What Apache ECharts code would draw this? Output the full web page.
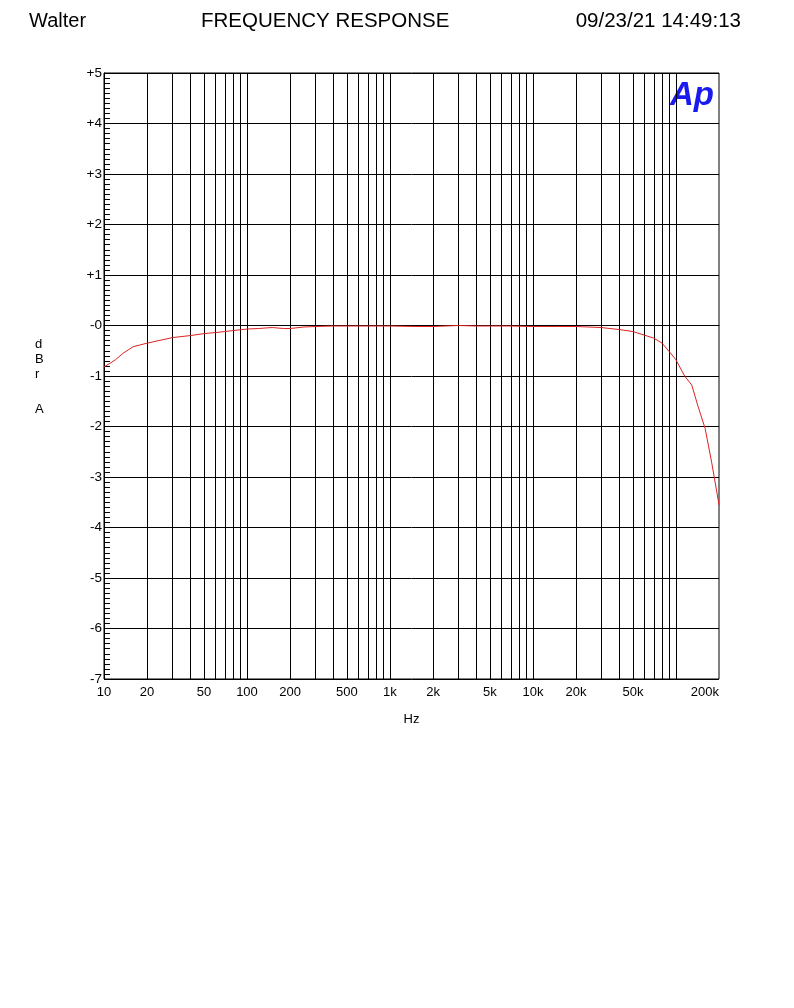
<!DOCTYPE html>
<html><head><meta charset="utf-8">
<script src="https://cdn.jsdelivr.net/npm/echarts@6/dist/echarts.min.js"></script>
<style>html,body{margin:0;padding:0;background:#fff}#c{width:794px;height:1008px}</style>
</head><body><div id="c"></div>
<script>
var freqs = [10,11,12,13.6,16,20,25,30,40,50,60,70,80,100,120,150,180,200,250,300,400,500,700,1000,1500,2000,3000,4000,5000,7000,10000,15000,20000,30000,40000,50000,60000,70000,80000,90000,100000,115000,129000,143000,160000,178000,200000];
var dbr   = [-0.82,-0.75,-0.68,-0.55,-0.42,-0.35,-0.29,-0.24,-0.2,-0.16,-0.14,-0.12,-0.1,-0.07,-0.06,-0.04,-0.06,-0.06,-0.03,-0.02,-0.01,-0.01,-0.01,-0.01,-0.02,-0.02,0.0,-0.01,-0.01,-0.01,-0.02,-0.02,-0.02,-0.04,-0.08,-0.12,-0.19,-0.25,-0.35,-0.52,-0.68,-1.0,-1.18,-1.61,-2.04,-2.72,-3.55];
var xTickLabels = [10,20,50,100,200,500,1000,2000,5000,10000,20000,50000,200000];
var xGridValues = [20,30,40,50,60,70,80,90,100,200,300,400,500,600,700,800,900,1000,2000,3000,4000,5000,6000,7000,8000,9000,10000,20000,30000,40000,50000,60000,70000,80000,90000,100000];
var headerLeft = 'Walter', headerTitle = 'FREQUENCY RESPONSE', headerDate = '09/23/21 14:49:13';
var yAxisName = ['d','B','r','A'];
var yAxisNameTops = [338,353,368,403];

var FONT = 'Liberation Sans, Arial, sans-serif';
function fmtHz(v){ if (v>=1000) return (v/1000)+'k'; return String(v); }
var chart = echarts.init(document.getElementById('c'), null, {renderer:'canvas'});
var graphics = [
  {type:'text',left:29,top:11,style:{text:headerLeft,fontFamily:FONT,fontSize:20,fill:'#000'}},
  {type:'text',left:201,top:11,style:{text:headerTitle,fontFamily:FONT,fontSize:20.5,fill:'#000'}},
  {type:'text',right:53,top:11,style:{text:headerDate,fontFamily:FONT,fontSize:20.5,fill:'#000'}},
  {type:'text',left:670,top:79,style:{text:'Ap',fontFamily:FONT,fontStyle:'italic',fontWeight:900,fontSize:33,fill:'#1a1af0'}}
];
yAxisName.forEach(function(ch,i){
  graphics.push({type:'text',left:35,top:yAxisNameTops[i],style:{text:ch,fontFamily:FONT,fontSize:13,fill:'#000',align:'center'}});
});
chart.setOption({
  animation:false,
  backgroundColor:'#fff',
  grid:{left:104,right:75,top:73,bottom:329,show:true,borderColor:'#000',borderWidth:1,containLabel:false},
  xAxis:{type:'log',logBase:10,min:10,max:200000,
    axisLine:{show:true,lineStyle:{color:'#000',width:1}},
    axisTick:{show:false},
    splitLine:{show:false},
    minorSplitLine:{show:false},
    axisLabel:{customValues:xTickLabels,formatter:function(v){return fmtHz(v);},color:'#000',fontFamily:FONT,fontSize:13,margin:7,showMinLabel:true,showMaxLabel:true,alignMaxLabel:'right'},
    name:'Hz',nameLocation:'middle',nameGap:34,nameTextStyle:{color:'#000',fontFamily:FONT,fontSize:13}
  },
  yAxis:{type:'value',min:-7,max:5,interval:1,
    axisLine:{show:true,lineStyle:{color:'#000',width:1}},
    axisTick:{show:false,inside:true},
    minorTick:{show:true,splitNumber:10,length:6,lineStyle:{color:'#000',width:1}},
    splitLine:{show:true,lineStyle:{color:'#000',width:1}},
    axisLabel:{color:'#000',fontFamily:FONT,fontSize:13.5,margin:2,padding:[0,0,3,0],formatter:function(v){ if(v>0) return '+'+v; if(v===0) return '-0'; return String(v);}}
  },
  graphic:graphics,
  series:[{
    type:'line',
    data:freqs.map(function(f,i){return [f,dbr[i]];}),
    showSymbol:false,symbol:'none',
    lineStyle:{color:'#dd2222',width:1},
    z:5,
    markLine:{silent:true,symbol:'none',animation:false,label:{show:false},
      lineStyle:{color:'#000',width:1,type:'solid'},
      data:xGridValues.map(function(v){return {xAxis:v};}),z:1}
  }]
});
</script></body></html>
